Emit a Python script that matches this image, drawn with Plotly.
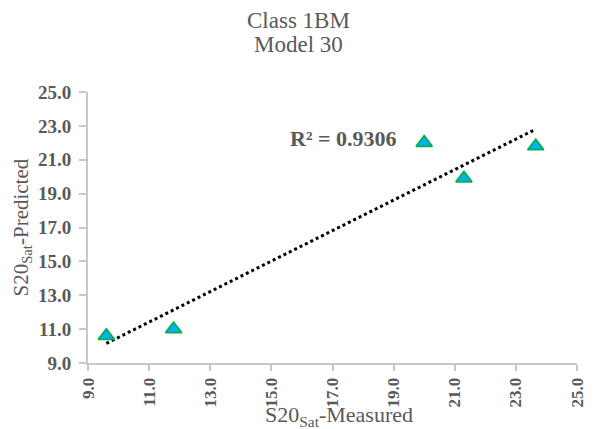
import numpy as np
import plotly.graph_objects as go

# Data
measured = [9.6, 11.8, 20.0, 21.3, 23.65]
predicted = [10.6, 11.0, 22.0, 19.9, 21.8]
r2_label = "R² = 0.9306"
title_lines = ["Class 1BM", "Model 30"]
x_title = "S20<sub>Sat</sub>-Measured"
y_title = "S20<sub>Sat</sub>-Predicted"

# Linear trendline through the data
slope, intercept = np.polyfit(measured, predicted, 1)
tx = [min(measured), max(measured)]
ty = [slope * v + intercept for v in tx]

grey = "#595959"
axis_grey = "#C8C8C8"
font = "Liberation Serif, Times New Roman, serif"

fig = go.Figure()
fig.add_trace(go.Scatter(
    x=tx, y=ty, mode="lines",
    line=dict(color="black", width=3, dash="dot"),
    hoverinfo="skip", showlegend=False,
))
fig.add_trace(go.Scatter(
    x=measured, y=predicted, mode="markers",
    marker=dict(symbol="triangle-up", size=14, color="#00B0F0",
                line=dict(color="#00B050", width=1.8)),
    showlegend=False,
))

# R² label
fig.add_annotation(
    x=17.36, y=22.28, xref="x", yref="y", text="<b>" + r2_label + "</b>",
    showarrow=False, font=dict(family=font, size=22, color=grey),
)

# Title lines
L, R, T, B = 88, 22, 92, 66
W, H = 599, 429
pw = W - L - R
title_x = (298 - L) / pw
for line, yc in zip(title_lines, [20, 44]):
    fig.add_annotation(
        x=title_x, y=1, xref="paper", yref="paper", text=line,
        showarrow=False, xanchor="center", yanchor="middle",
        yshift=T - yc, font=dict(family=font, size=23, color=grey),
    )

# Axis titles
fig.add_annotation(
    x=(339 - L) / pw, y=0, xref="paper", yref="paper", text=x_title,
    showarrow=False, xanchor="center", yanchor="middle",
    yshift=-(416 - (H - B)), font=dict(family=font, size=22, color=grey),
)
fig.add_annotation(
    x=0, y=0.5, xref="paper", yref="paper", text=y_title,
    showarrow=False, xanchor="center", yanchor="middle", textangle=-90,
    xshift=-(L - 21), font=dict(family=font, size=21, color=grey),
)

fig.update_layout(
    width=W, height=H,
    margin=dict(l=L, r=R, t=T, b=B),
    paper_bgcolor="white", plot_bgcolor="white",
    font=dict(family=font, color=grey),
)
fig.update_xaxes(
    range=[9, 25], dtick=2, tick0=9, tickformat=".1f", tickangle=-90,
    showgrid=False, zeroline=False,
    showline=True, linecolor=axis_grey, linewidth=2,
    ticks="outside", ticklen=6, tickcolor=axis_grey, tickwidth=2,
    tickfont=dict(family=font, size=17, color=grey, weight="bold"),
)
fig.update_yaxes(
    range=[9, 25], dtick=2, tick0=9, tickformat=".1f",
    showgrid=False, zeroline=False,
    showline=True, linecolor=axis_grey, linewidth=2,
    ticks="outside", ticklen=7, tickcolor=axis_grey, tickwidth=2,
    ticklabelstandoff=4,
    tickfont=dict(family=font, size=19, color=grey, weight="bold"),
)

fig.write_html(
    "out.html",
    config={"displayModeBar": False},
    post_script="document.body.style.margin='0';document.body.style.overflow='hidden';",
)
